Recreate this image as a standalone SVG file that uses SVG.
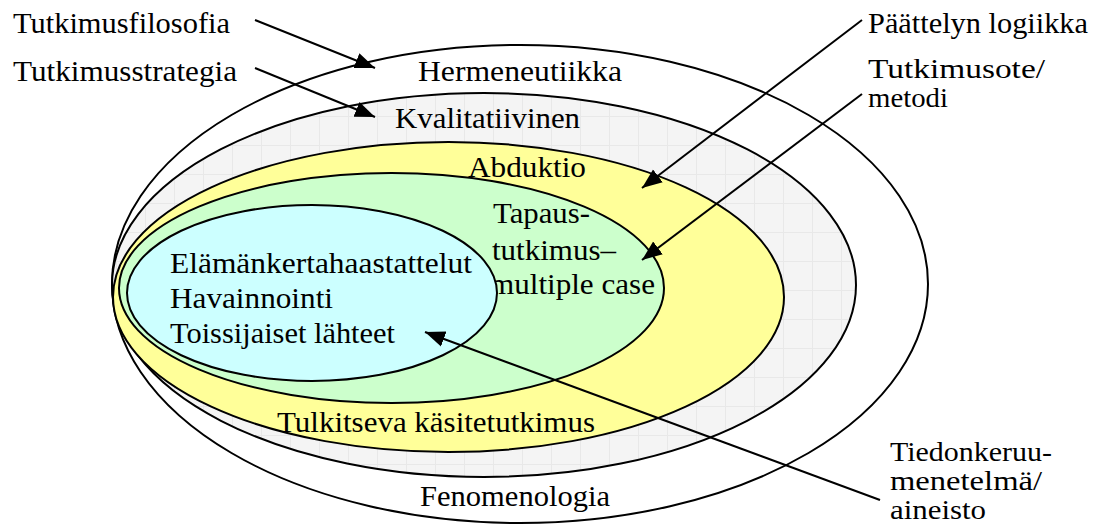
<svg xmlns="http://www.w3.org/2000/svg" width="1094" height="525" viewBox="0 0 1094 525">
<style>
text{font-family:'Liberation Serif','Times New Roman',Times,serif;font-size:30px;fill:#000}
.sm{font-size:27px}
.ell{stroke:#000;stroke-width:2}
.conn{stroke:#000;stroke-width:2;fill:none}
</style>
<defs>
<pattern id="grid" width="29" height="29" patternUnits="userSpaceOnUse">
<rect width="29" height="29" fill="#f4f4f4"/>
<path d="M0 0.5H29M0.5 0V29" stroke="#e8e8e8" stroke-width="1"/>
</pattern>
<marker id="ah" markerWidth="22" markerHeight="18" refX="20" refY="9" orient="auto" markerUnits="userSpaceOnUse">
<path d="M0 1L20 9L0 17Z" fill="#000"/>
</marker>
</defs>
<rect width="1094" height="525" fill="#fff"/>
<g id="filosofia">
<ellipse class="ell" cx="520" cy="284" rx="408" ry="239" fill="#fff"/>
<text x="418" y="81" textLength="204" lengthAdjust="spacingAndGlyphs">Hermeneutiikka</text>
<text x="420" y="506" textLength="190" lengthAdjust="spacingAndGlyphs">Fenomenologia</text>
</g>
<g id="strategia">
<ellipse class="ell" cx="484" cy="285" rx="372" ry="192" fill="url(#grid)"/>
<text x="395" y="128" textLength="185" lengthAdjust="spacingAndGlyphs">Kvalitatiivinen</text>
</g>
<g id="logiikka">
<ellipse class="ell" cx="448.5" cy="297" rx="335.5" ry="155" fill="#ffff99"/>
<text x="468" y="177" textLength="118" lengthAdjust="spacingAndGlyphs">Abduktio</text>
<text x="277" y="432" textLength="318" lengthAdjust="spacingAndGlyphs">Tulkitseva käsitetutkimus</text>
</g>
<g id="metodi">
<ellipse class="ell" cx="391.5" cy="288" rx="272.5" ry="115" fill="#ccffcc"/>
<text x="493" y="223" textLength="97" lengthAdjust="spacingAndGlyphs">Tapaus-</text>
<text x="492" y="260" textLength="124" lengthAdjust="spacingAndGlyphs">tutkimus–</text>
<text x="490" y="294" textLength="165" lengthAdjust="spacingAndGlyphs">multiple case</text>
</g>
<g id="aineisto">
<ellipse class="ell" cx="312" cy="293" rx="185" ry="88" fill="#ccffff"/>
<text x="170" y="273" textLength="302" lengthAdjust="spacingAndGlyphs">Elämänkertahaastattelut</text>
<text x="170" y="308" textLength="163" lengthAdjust="spacingAndGlyphs">Havainnointi</text>
<text x="170" y="343" textLength="225" lengthAdjust="spacingAndGlyphs">Toissijaiset lähteet</text>
</g>
<g id="labels">
<text x="13" y="33" textLength="217" lengthAdjust="spacingAndGlyphs">Tutkimusfilosofia</text>
<text x="13" y="81" textLength="224" lengthAdjust="spacingAndGlyphs">Tutkimusstrategia</text>
<text x="868" y="33" textLength="220" lengthAdjust="spacingAndGlyphs">Päättelyn logiikka</text>
<text class="sm" x="868" y="78" textLength="177" lengthAdjust="spacingAndGlyphs">Tutkimusote/</text>
<text class="sm" x="868" y="107" textLength="80" lengthAdjust="spacingAndGlyphs">metodi</text>
<text class="sm" x="890" y="461" textLength="162" lengthAdjust="spacingAndGlyphs">Tiedonkeruu-</text>
<text class="sm" x="890" y="490" textLength="152" lengthAdjust="spacingAndGlyphs">menetelmä/</text>
<text class="sm" x="890" y="519" textLength="96" lengthAdjust="spacingAndGlyphs">aineisto</text>
</g>
<g id="connectors">
<line class="conn" x1="255" y1="20" x2="375" y2="68" marker-end="url(#ah)"/>
<line class="conn" x1="255" y1="68" x2="375" y2="117" marker-end="url(#ah)"/>
<line class="conn" x1="862" y1="20" x2="642" y2="188" marker-end="url(#ah)"/>
<line class="conn" x1="862" y1="94" x2="642" y2="260" marker-end="url(#ah)"/>
<line class="conn" x1="880" y1="500" x2="425" y2="332" marker-end="url(#ah)"/>
</g>
</svg>
